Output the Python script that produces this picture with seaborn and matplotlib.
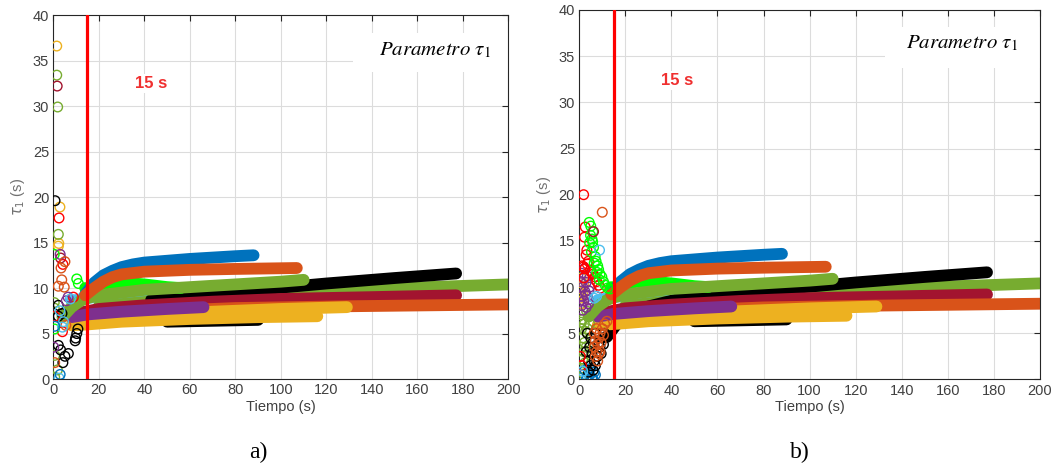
import numpy as np
import pandas as pd
import matplotlib
matplotlib.use("Agg")
import matplotlib.pyplot as plt
import seaborn as sns
from matplotlib.patches import Rectangle

# ---------------- colours (MATLAB default order + extras) ----------------
C_BLUE = "#0072BD"
C_ORANGE = "#D95319"
C_YELLOW = "#EDB120"
C_PURPLE = "#7E2F8E"
C_GREEN = "#77AC30"
C_LBLUE = "#4DBEEE"
C_DRED = "#A2142F"
C_BLACK = "#000000"
C_BGREEN = "#00FF00"
C_RED = "#FF0000"

# ---------------- dense series (tau1 estimates over time) ----------------
lblue_x = [8, 20, 50, 100, 150]
lblue_y = [8.6, 9.1, 9.4, 9.7, 10.0]
blue2_x = [60, 100, 150]
blue2_y = [9.3, 9.6, 10.0]
blacklow_x = [50, 70, 90]
blacklow_y = [6.3, 6.4, 6.5]
greenlong_x = [20, 50, 80, 110, 140, 170, 200]
greenlong_y = [8.0, 8.7, 9.2, 9.6, 9.9, 10.15, 10.4]
blacklong_x = [43, 80, 120, 150, 177]
blacklong_y = [8.7, 9.6, 10.5, 11.1, 11.6]
blacklong_b_x = [12, 16, 22, 30, 43, 80, 120, 150, 177]
blacklong_b_y = [4.6, 5.9, 6.9, 7.9, 8.7, 9.6, 10.5, 11.1, 11.6]
dred_x = [12, 20, 40, 70, 100, 140, 177]
dred_y = [7.3, 7.7, 8.1, 8.5, 8.8, 9.0, 9.2]
orangelow_x = [15, 40, 80, 130, 200]
orangelow_y = [7.0, 7.4, 7.8, 8.0, 8.2]
yellow1_x = [10, 20, 40, 70, 100, 129]
yellow1_y = [6.3, 6.6, 7.0, 7.4, 7.7, 7.9]
yellow2_x = [8, 15, 30, 60, 90, 116]
yellow2_y = [5.9, 6.0, 6.3, 6.6, 6.8, 6.9]
purple_x = [8, 15, 30, 50, 66]
purple_y = [6.8, 7.1, 7.4, 7.7, 7.9]
bgreen_x = [14, 17, 20, 25, 30, 40, 50, 56]
bgreen_y = [10.0, 9.9, 10.3, 10.6, 10.6, 10.4, 10.1, 10.0]
olive_x = [4, 8, 12, 15, 20, 30, 40, 60, 80, 100, 110]
olive_y = [6.8, 7.9, 8.6, 8.9, 9.2, 9.5, 9.8, 10.1, 10.4, 10.7, 10.9]
blue_x = [14, 18, 22, 26, 30, 35, 40, 50, 60, 70, 80, 88]
blue_y = [9.3, 10.6, 11.4, 11.9, 12.3, 12.6, 12.8, 13.0, 13.2, 13.35, 13.5, 13.6]
orange_x = [14, 18, 22, 26, 30, 40, 60, 80, 107]
orange_y = [9.2, 10.0, 10.7, 11.2, 11.5, 11.8, 12.0, 12.1, 12.2]

# ---------------- early scattered estimates, panel a ----------------
sa_x = [1.5, 1.5, 1.7, 1.9, 0.75, 2.9, 2.5, 2.2, 2.4, 2.2, 0.4, 3.0, 3.2, 5.1, 3.4, 4.2,
        3.7, 4.8, 2.2, 10.3, 11.0, 0.4, 0.4, 2.2, 8.8, 5.7, 0.6, 2.9, 2.2, 0.6, 0.5,
        4.0, 4.0, 10.3, 10.8, 9.8, 0.2, 2.2, 0.6, 5.1, 6.6, 0.6, 4.2, 1.8, 3.0, 2.5,
        3.2, 0.6, 6.5, 7.5, 5.5, 4.5, 3.8, 9.6]
sa_y = [36.6, 33.4, 32.2, 29.9, 19.6, 18.9, 17.7, 15.9, 14.9, 14.6, 13.7, 13.7, 13.3, 12.9,
        12.2, 12.6, 10.9, 10.1, 10.2, 11.0, 10.5, 8.4, 7.8, 8.1, 9.0, 8.6, 6.9, 7.5, 6.9,
        5.8, 5.5, 5.7, 5.2, 5.0, 5.5, 4.5, 3.5, 3.7, 2.6, 2.5, 2.8, 1.8, 1.8, 1.0, 0.5,
        0.1, 3.2, 0.2, 9.0, 8.8, 5.9, 6.3, 7.2, 4.2]
sa_c = [C_YELLOW, C_GREEN, C_DRED, C_GREEN, C_BLACK, C_YELLOW, C_RED, C_GREEN, C_YELLOW,
        C_YELLOW, C_BGREEN, C_PURPLE, C_DRED, C_ORANGE, C_ORANGE, C_RED, C_ORANGE,
        C_ORANGE, C_ORANGE, C_BGREEN, C_BGREEN, C_GREEN, C_GREEN, C_BLACK, C_RED,
        C_PURPLE, C_RED, C_LBLUE, C_BLACK, C_BLUE, C_BGREEN, C_LBLUE, C_RED, C_BLACK,
        C_BLACK, C_BLACK, C_PURPLE, C_BLACK, C_GREEN, C_BLACK, C_BLACK, C_ORANGE,
        C_BLACK, C_GREEN, C_BLUE, C_LBLUE, C_BLACK, C_GREEN, C_PURPLE, C_LBLUE,
        C_ORANGE, C_LBLUE, C_BLACK, C_BLACK]

# ---------------- early scattered estimates, panel b ----------------
sb_red_x = [1.9, 2.6, 2.3, 3.3, 3.0, 1.9, 4.8, 6.0, 6.9, 7.6, 8.4, 9.2, 2.5, 3.5, 1.0, 0.5,
            4.0, 5.4, 2.0, 1.2]
sb_red_y = [20.0, 16.5, 15.4, 14.0, 13.5, 12.2, 11.8, 11.4, 11.1, 10.6, 10.2, 9.9, 12.0, 12.5,
            1.5, 2.5, 12.8, 11.6, 11.0, 12.3]
sb_bgreen_x = [4.3, 5.0, 5.9, 5.5, 4.5, 6.2, 5.3, 6.9, 7.3, 8.0, 8.4, 9.0, 9.8, 10.5, 11.3,
               12.3, 13.4, 6.5, 7.6, 8.7, 5.8, 4.9]
sb_bgreen_y = [17.0, 16.6, 16.0, 15.2, 14.8, 14.3, 13.8, 13.3, 12.8, 12.3, 11.9, 11.4, 11.1,
               10.6, 10.2, 9.9, 9.8, 12.6, 11.6, 10.8, 14.9, 15.6]
sb_other_x = [10.0, 6.2, 8.8, 1.5, 0.8, 6.5, 7.5]
sb_other_y = [18.1, 16.0, 14.0, 0.9, 0.5, 8.8, 9.0]
sb_other_c = [C_ORANGE, C_DRED, C_LBLUE, C_LBLUE, C_LBLUE, C_LBLUE, C_LBLUE]
sb_purple_x = [1.0, 2.0, 3.0, 1.5, 2.5, 3.5, 1.0, 2.0, 4.0, 3.0, 1.5, 4.5, 3.5, 1.0, 2.8, 4.2,
               0.5, 2.2, 3.8]
sb_purple_y = [11.5, 11.0, 10.5, 10.0, 9.5, 9.0, 9.0, 8.5, 8.2, 7.8, 7.5, 10.0, 11.2, 8.0, 9.2,
               9.6, 10.6, 12.0, 8.6]
sb_yellow_x = [0.5, 1.0, 0.5, 1.5, 0.5, 2.0, 0.8, 1.2, 0.3]
sb_yellow_y = [10.5, 10.0, 9.5, 9.2, 8.8, 10.3, 11.0, 8.2, 9.9]
sb_olive_x = [0.8, 1.5, 2.2, 1.0, 2.8, 1.5, 2.3, 1.0, 2.0, 1.5, 2.5, 1.0, 2.0, 1.2, 3.0, 3.5,
              4.0, 0.6, 3.2, 4.5]
sb_olive_y = [7.0, 6.5, 6.0, 5.5, 5.2, 4.5, 4.0, 3.5, 3.0, 2.2, 1.8, 1.2, 0.6, 0.2, 3.5, 5.5,
              6.8, 6.2, 7.4, 6.0]
sb_black_x = [3.0, 4.0, 5.0, 4.5, 5.5, 6.0, 6.5, 7.0, 5.0, 3.5, 7.5, 8.0, 6.0, 4.0, 8.5, 9.0,
              10.0, 11.0, 7.0, 9.5, 10.5]
sb_black_y = [3.0, 2.0, 1.5, 3.5, 2.8, 1.0, 2.0, 1.5, 4.5, 5.0, 3.0, 2.5, 4.0, 0.8, 4.0, 3.5,
              4.5, 5.0, 5.0, 2.8, 3.8]
sb_blue_x = [2.5, 3.5, 4.5, 5.5, 6.5, 5.0, 7.0, 6.0, 3.0]
sb_blue_y = [1.0, 0.3, 0.5, 0.2, 0.8, 1.2, 0.5, 0.0, 0.0]
sb_orange_x = [6.5, 7.0, 7.5, 8.0, 8.5, 9.0, 7.0, 8.0, 9.5, 10.0, 11.0, 12.0, 9.0, 10.5, 6.5,
               7.5, 8.5]
sb_orange_y = [3.5, 4.2, 3.0, 3.8, 4.5, 5.0, 2.5, 2.0, 4.0, 5.5, 6.0, 6.3, 3.0, 4.8, 5.0,
               5.5, 2.8]

# ---------------- axis / annotation text ----------------
x_ticks = [0, 20, 40, 60, 80, 100, 120, 140, 160, 180, 200]
y_ticks = [0, 5, 10, 15, 20, 25, 30, 35, 40]
xlabel_text = "Tiempo (s)"
ylabel_text = r"$\tau_1$ (s)"
box_text = r"$\mathit{Parametro}\ \tau_1$"
line_text = "15 s"
t_mark = 15
panel_labels = ["a)", "b)"]

# ---------------- style ----------------
sns.set_theme(style="white")
plt.rcParams["font.family"] = ["Liberation Sans", "DejaVu Sans"]
TXT = "#404040"

fig = plt.figure(figsize=(10.58, 4.72), dpi=100)
ax_a = fig.add_axes([0.0504, 0.197, 0.4302, 0.771])
ax_b = fig.add_axes([0.5475, 0.196, 0.4355, 0.783])


def bands(black_x, black_y):
    return [
        (lblue_x, lblue_y, C_LBLUE),
        (blue2_x, blue2_y, C_BLUE),
        (blacklow_x, blacklow_y, C_BLACK),
        (greenlong_x, greenlong_y, C_GREEN),
        (black_x, black_y, C_BLACK),
        (dred_x, dred_y, C_DRED),
        (orangelow_x, orangelow_y, C_ORANGE),
        (yellow1_x, yellow1_y, C_YELLOW),
        (yellow2_x, yellow2_y, C_YELLOW),
        (purple_x, purple_y, C_PURPLE),
        (bgreen_x, bgreen_y, C_BGREEN),
        (olive_x, olive_y, C_GREEN),
        (blue_x, blue_y, C_BLUE),
        (orange_x, orange_y, C_ORANGE),
    ]


def draw_scatter(ax, xs, ys, color):
    sns.scatterplot(x=xs, y=ys, ax=ax, marker="o", s=48, color=color,
                    facecolors="none", edgecolor=color, linewidth=1.0,
                    legend=False, zorder=3)


def style_axes(ax, box_pos, box_text_pos, txt15_pos):
    ax.set_xlim(0, 200)
    ax.set_ylim(0, 40)
    ax.set_xticks(x_ticks)
    ax.set_yticks(y_ticks)
    ax.grid(True, color="#dcdcdc", linewidth=0.8)
    ax.set_axisbelow(True)
    ax.tick_params(direction="in", length=4, width=0.8, colors="#262626",
                   labelcolor=TXT, labelsize=10.5, top=True, right=True,
                   pad=3)
    for sp in ax.spines.values():
        sp.set_visible(True)
        sp.set_color("#262626")
        sp.set_linewidth(0.8)
    ax.set_xlabel(xlabel_text, color=TXT, fontsize=10.5, labelpad=2)
    ax.set_ylabel(ylabel_text, color="#707070", fontsize=10.5, labelpad=4)
    ax.axvline(t_mark, color=C_RED, lw=2.3, zorder=5)
    ax.add_patch(Rectangle((box_pos[0], box_pos[1]), box_pos[2], box_pos[3],
                           transform=ax.transAxes, facecolor="white",
                           edgecolor="none", zorder=1.5))
    ax.text(box_text_pos[0], box_text_pos[1], box_text, transform=ax.transAxes,
            ha="center", va="center", fontsize=15, color="black",
            math_fontfamily="stix", zorder=6)
    ax.text(txt15_pos[0], txt15_pos[1], line_text, color="#F03030",
            fontsize=12, fontweight="bold", ha="center", va="center",
            bbox=dict(facecolor="white", edgecolor="none", pad=1.5), zorder=2)


# ---------------- panel a ----------------
for bx, by, bc in bands(blacklong_x, blacklong_y):
    sns.lineplot(x=bx, y=by, ax=ax_a, color=bc, lw=8.5, sort=False,
                 estimator=None, solid_capstyle="round", zorder=2.5)
for col in dict.fromkeys(sa_c):
    xs = [x for x, c in zip(sa_x, sa_c) if c == col]
    ys = [y for y, c in zip(sa_y, sa_c) if c == col]
    draw_scatter(ax_a, xs, ys, col)
style_axes(ax_a, (0.659, 0.843, 0.341, 0.107), (0.839, 0.904), (43, 32.5))

# ---------------- panel b ----------------
for bx, by, bc in bands(blacklong_b_x, blacklong_b_y):
    sns.lineplot(x=bx, y=by, ax=ax_b, color=bc, lw=8.5, sort=False,
                 estimator=None, solid_capstyle="round", zorder=2.5)
draw_scatter(ax_b, sb_olive_x, sb_olive_y, C_GREEN)
draw_scatter(ax_b, sb_yellow_x, sb_yellow_y, C_YELLOW)
draw_scatter(ax_b, sb_purple_x, sb_purple_y, C_PURPLE)
draw_scatter(ax_b, sb_blue_x, sb_blue_y, C_BLUE)
draw_scatter(ax_b, sb_black_x, sb_black_y, C_BLACK)
draw_scatter(ax_b, sb_orange_x, sb_orange_y, C_ORANGE)
draw_scatter(ax_b, sb_red_x, sb_red_y, C_RED)
draw_scatter(ax_b, sb_bgreen_x, sb_bgreen_y, C_BGREEN)
for col in dict.fromkeys(sb_other_c):
    xs = [x for x, c in zip(sb_other_x, sb_other_c) if c == col]
    ys = [y for y, c in zip(sb_other_y, sb_other_c) if c == col]
    draw_scatter(ax_b, xs, ys, col)
style_axes(ax_b, (0.664, 0.843, 0.336, 0.111), (0.83, 0.91), (42.6, 32.4))

# ---------------- panel letters ----------------
fig.text(258 / 1058, 1 - 452 / 472, panel_labels[0], ha="center", va="center",
         fontsize=17, family="Liberation Serif", color="black")
fig.text(800 / 1058, 1 - 452 / 472, panel_labels[1], ha="center", va="center",
         fontsize=17, family="Liberation Serif", color="black")

fig.savefig("out.png", dpi=100, facecolor="white")
